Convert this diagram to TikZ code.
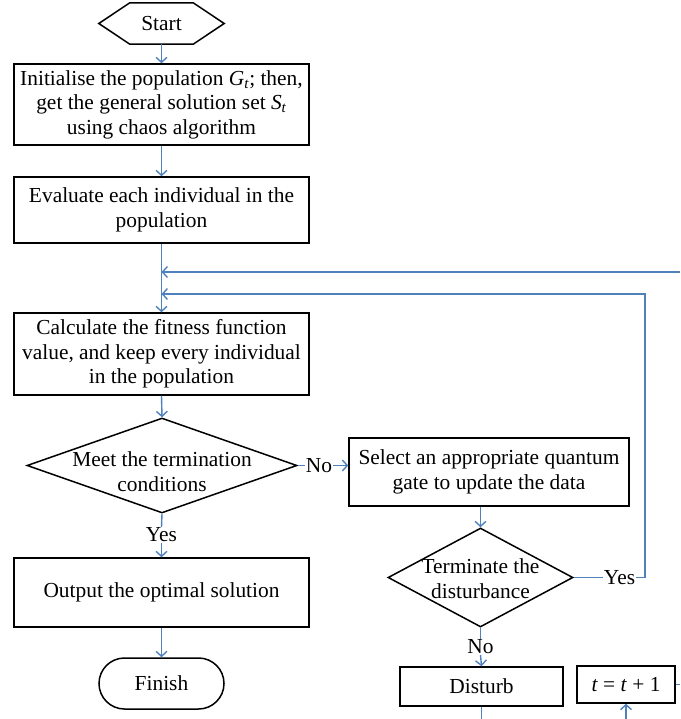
\documentclass[tikz,border=0pt]{standalone}
\usepackage{fontspec}
\setmainfont{Liberation Serif}
\usetikzlibrary{arrows.meta,shapes.geometric,shapes.misc}
\definecolor{linkblue}{RGB}{79,129,189}
\newcommand{\dtext}[2]{\smash{\makebox[0pt]{\raisebox{#1}{\begin{tabular}{@{}c@{}}#2\end{tabular}}}}}
\begin{document}
\begin{tikzpicture}[x=1pt,y=-1pt,
  every node/.style={font=\fontsize{21.4}{24.5}\selectfont},
  box/.style={draw=black,line width=1.5pt,rectangle,align=center,inner sep=0pt},
  hexbox/.style={rectangle,inner sep=0pt,minimum width=125pt,minimum height=41pt},
  hexline/.style={draw=black,line width=1.5pt,line join=miter},
  term/.style={draw=black,line width=1.5pt,rounded rectangle,inner sep=0pt,minimum width=125pt,minimum height=51pt},
  decision/.style={draw=black,line width=1.5pt,diamond,inner sep=0pt},
  link/.style={draw=linkblue,line width=1.4pt},
  arr/.style={link,-{Straight Barb[length=5pt,width=11pt,line width=1.4pt]}},
  lbl/.style={inner sep=0.5pt}]
\useasboundingbox (0,0) rectangle (680,719);

% nodes
\node[hexbox] (start) at (161.5,23.5) {Start};
\draw[hexline] (start.west) -- ([xshift=31pt]start.north west) -- ([xshift=-31pt]start.north east)
  -- (start.east) -- ([xshift=-31pt]start.south east) -- ([xshift=31pt]start.south west) -- cycle;

\node[box,minimum width=295pt,minimum height=81pt] (b1) at (161.5,104.5)
  {Initialise the population \textit{G}\textsubscript{\textit{t}}; then,\\
   get the general solution set \textit{S}\textsubscript{\textit{t}}\\
   using chaos algorithm};
\node[box,minimum width=295pt,minimum height=66pt] (b2) at (161.5,210)
  {Evaluate each individual in the\\ population};
\node[box,minimum width=295pt,minimum height=82pt] (b3) at (161.5,354)
  {Calculate the fitness function\\ value, and keep every individual\\ in the population};
\node[decision,minimum width=270pt,minimum height=95pt] (d1) at (162,465.5)
  {\dtext{-14pt}{Meet the termination\\ conditions}};
\node[box,minimum width=280pt,minimum height=68pt] (sel) at (489,472)
  {Select an appropriate quantum\\ gate to update the data};
\node[decision,minimum width=185pt,minimum height=99pt] (d2) at (480.5,577.5)
  {\dtext{-9pt}{Terminate the\\ disturbance}};
\node[box,minimum width=295pt,minimum height=69pt] (out) at (161.5,592.5)
  {Output the optimal solution};
\node[term] (fin) at (161.5,683.5) {Finish};
\node[box,minimum width=163pt,minimum height=39pt] (dist) at (481.5,686.5) {Disturb};
\node[box,minimum width=98pt,minimum height=37pt] (tbox) at (626,684.5)
  {\textit{t} = \textit{t} + 1};

% labels
\node[lbl] (no1) at (319,465.5) {No};
\node[lbl] (yes1) at (161.5,535) {Yes};
\node[lbl] (yes2) at (619.5,577.5) {Yes};
\node[lbl] (no2) at (480.5,647) {No};

% coordinates
\coordinate (m1) at (161.5,272);
\coordinate (m2) at (161.5,294);
\coordinate (e1) at (680,272);
\coordinate (r2) at (645,294);
\coordinate (e2) at (481.5,719);
\coordinate (e3) at (626,719);
\coordinate (e4) at (680,684.5);

% connectors
\draw[arr] (start.south) -- (b1.north);
\draw[arr] (b1.south) -- (b2.north);
\draw[arr] (b2.south) -- (b3.north);
\draw[arr] (b3.south) -- (d1.north);
\draw[link] (d1.east) -- (no1.west);
\draw[arr] (no1.east) -- (no1.east -| sel.west);
\draw[link] (d1.south) -- (yes1.north);
\draw[arr] (yes1.south) -- (out.north);
\draw[arr] (out.south) -- (fin.north);
\draw[arr] (d2.north |- sel.south) -- (d2.north);
\draw[link] (d2.east) -- (yes2.west);
\draw[arr] (yes2.east) -| (r2) -- (m2);
\draw[arr] (e1) -- (m1);
\draw[link] (d2.south) -- (no2.north);
\draw[arr] (no2.south) -- (dist.north);
\draw[link] (dist.south) -- (e2);
\draw[arr] (e3) -- (tbox.south);
\draw[link] (tbox.east) -- (e4);
\end{tikzpicture}
\end{document}
